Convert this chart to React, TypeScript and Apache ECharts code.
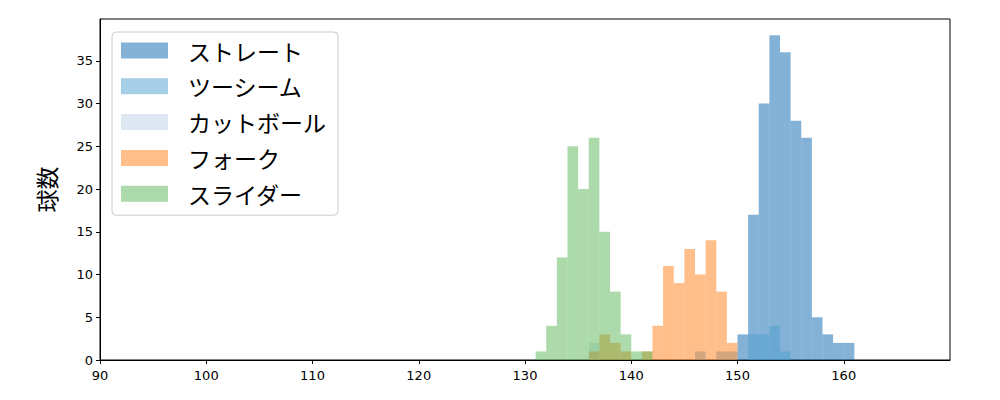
import React, { useEffect, useRef } from "react";
import * as echarts from "echarts";

// Histogram bins (left edge of each 1-km/h bin) and counts per pitch type
const seriesNames = ["ストレート", "ツーシーム", "カットボール", "フォーク", "スライダー"];

const straightBins = [150, 151, 152, 153, 154, 155, 156, 157, 158, 159, 160];
const straightCounts = [3, 17, 30, 38, 36, 28, 26, 5, 3, 2, 2];

const twoSeamBins = [146, 148, 149, 151, 152, 153, 154];
const twoSeamCounts = [1, 1, 1, 3, 3, 4, 1];

const cutterBins = [136];
const cutterCounts = [2];

const forkBins = [136, 137, 138, 139, 141, 142, 143, 144, 145, 146, 147, 148, 149];
const forkCounts = [1, 3, 2, 1, 1, 4, 11, 9, 13, 10, 14, 8, 2];

const sliderBins = [131, 132, 133, 134, 135, 136, 137, 138, 139, 140, 141];
const sliderCounts = [1, 4, 12, 25, 20, 26, 15, 8, 3, 1, 1];

const binWidth = 1;

const xTicks = [90, 100, 110, 120, 130, 140, 150, 160];
const yTicks = [0, 5, 10, 15, 20, 25, 30, 35];

const colors = [
  "rgba(10,102,174,0.5)",
  "rgba(77,157,205,0.5)",
  "rgba(187,209,231,0.5)",
  "rgba(255,125,21,0.5)",
  "rgba(89,181,85,0.5)",
];

const allBins = [straightBins, twoSeamBins, cutterBins, forkBins, sliderBins];
const allCounts = [straightCounts, twoSeamCounts, cutterCounts, forkCounts, sliderCounts];

export default function App() {
  const ref = useRef<HTMLDivElement>(null);

  useEffect(() => {
    document.body.style.margin = "0";
    if (!ref.current) return;
    const chart = echarts.init(ref.current, null, { renderer: "svg" });

    const series = seriesNames.map((name, i) => {
      const color = colors[i];
      return {
        name,
        type: "custom",
        itemStyle: { color },
        encode: { x: [0, 1], y: 2 },
        data: allBins[i].map((b, j) => [b, b + binWidth, allCounts[i][j]]),
        renderItem: (params: any, api: any) => {
          const x0 = api.value(0);
          const x1 = api.value(1);
          const y = api.value(2);
          const p0 = api.coord([x0, y]);
          const p1 = api.coord([x1, 0]);
          return {
            type: "rect",
            shape: { x: p0[0], y: p0[1], width: p1[0] - p0[0], height: p1[1] - p0[1] },
            style: { fill: color },
          };
        },
      };
    });

    chart.setOption({
      animation: false,
      backgroundColor: "#ffffff",
      grid: {
        left: 100,
        right: 50,
        top: 19,
        bottom: 40,
        show: true,
        borderColor: "#000",
        borderWidth: 1,
        backgroundColor: "transparent",
      },
      legend: {
        orient: "vertical",
        left: 112,
        top: 32,
        icon: "rect",
        itemWidth: 47,
        itemHeight: 16,
        itemGap: 12.8,
        padding: [7, 12, 10, 9],
        backgroundColor: "rgba(255,255,255,0.8)",
        borderColor: "#cccccc",
        borderWidth: 1,
        borderRadius: 4,
        data: seriesNames,
        textStyle: {
          fontFamily: "Noto Sans CJK JP",
          fontSize: 23,
          lineHeight: 22,
          color: "#000",
          padding: [0, 0, 0, 15],
        },
      },
      xAxis: {
        type: "value",
        min: 90,
        max: 170,
        axisLine: { show: true, lineStyle: { color: "#000", width: 1 } },
        axisTick: { show: true, length: 4, lineStyle: { color: "#000" }, customValues: xTicks },
        axisLabel: {
          customValues: xTicks,
          margin: 9,
          fontFamily: "DejaVu Sans",
          fontSize: 13,
          color: "#000",
        },
        splitLine: { show: false },
      },
      yAxis: {
        type: "value",
        min: 0,
        max: 39.9,
        name: "球数",
        nameLocation: "middle",
        nameRotate: 90,
        nameGap: 43,
        nameTextStyle: { fontFamily: "Noto Sans CJK JP", fontSize: 23, color: "#000" },
        axisLine: { show: true, lineStyle: { color: "#000", width: 1 } },
        axisTick: { show: true, length: 4, lineStyle: { color: "#000" }, customValues: yTicks },
        axisLabel: {
          customValues: yTicks,
          margin: 7,
          fontFamily: "DejaVu Sans",
          fontSize: 13,
          color: "#000",
        },
        splitLine: { show: false },
      },
      series,
    });

    return () => chart.dispose();
  }, []);

  return <div ref={ref} style={{ width: 1000, height: 400 }} />;
}
